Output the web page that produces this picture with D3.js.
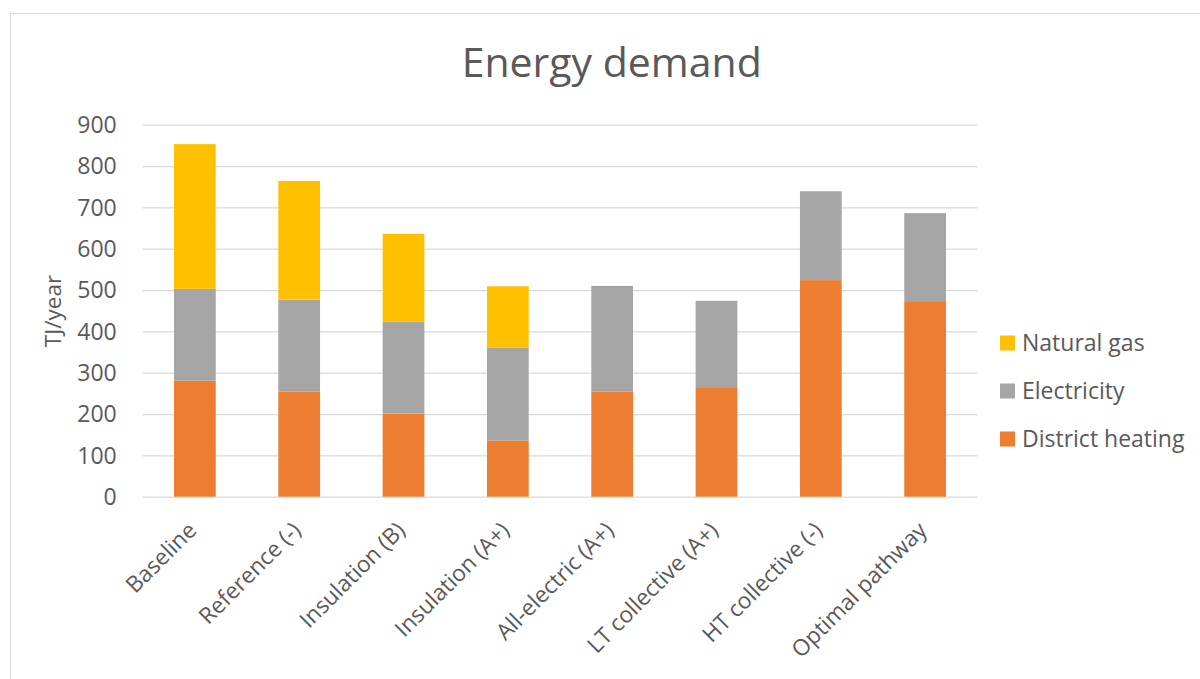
<!DOCTYPE html>
<html>
<head>
<meta charset="utf-8">
<script src="https://cdn.jsdelivr.net/npm/d3@7"></script>
<style>
  html, body { margin: 0; padding: 0; background: #fff; }
  svg { display: block; font-family: "Open Sans", "Noto Sans", sans-serif; }
</style>
</head>
<body>
<svg id="chart" width="1200" height="679"></svg>
<script>
const categories = ["Baseline", "Reference (-)", "Insulation (B)", "Insulation (A+)", "All-electric (A+)", "LT collective (A+)", "HT collective (-)", "Optimal pathway"];
const districtHeating = [281, 254, 201, 136, 254, 265, 524, 471];
const electricity     = [222, 223, 223, 224, 256, 209, 215, 215];
const naturalGas      = [350, 287, 212, 149, 0, 0, 0, 0];
const seriesNames = ["District heating", "Electricity", "Natural gas"];
const seriesColors = ["#ED7D31", "#A5A5A5", "#FFC000"];
const yTicks = [0, 100, 200, 300, 400, 500, 600, 700, 800, 900];
const title = "Energy demand";
const yTitle = "TJ/year";

const svg = d3.select("#chart");
const textColor = "#595959";
const gridColor = "#D9D9D9";

// chart border
svg.append("rect").attr("x", 10.5).attr("y", 13.5).attr("width", 1200).attr("height", 700)
  .attr("fill", "none").attr("stroke", gridColor).attr("stroke-width", 1);

const plot = { left: 142.7, right: 977.3, top: 124.7, bottom: 496.7 };

const x = d3.scaleBand().domain(categories).range([plot.left, plot.right]).paddingInner(0.6).paddingOuter(0.3);
const y = d3.scaleLinear().domain([0, 900]).range([plot.bottom, plot.top]);

function fit(sel, target) {
  const n = sel.node();
  const fs = parseFloat(sel.attr("font-size"));
  const len = n.getComputedTextLength();
  if (len > 0) sel.attr("font-size", (fs * target / len).toFixed(2));
}

// gridlines
const yAxis = d3.axisLeft(y).tickValues(yTicks).tickSize(-(plot.right - plot.left)).tickPadding(26);
const gy = svg.append("g").attr("transform", `translate(${plot.left},0)`).call(yAxis);
gy.select(".domain").remove();
gy.selectAll(".tick line").attr("stroke", gridColor).attr("stroke-width", 1.3);
gy.selectAll(".tick text").attr("fill", textColor).attr("font-size", 23)
  .attr("font-family", "'Open Sans', sans-serif").attr("dy", "0.34em");

// stacked data
const rows = categories.map((c, i) => ({ cat: c, "District heating": districtHeating[i], "Electricity": electricity[i], "Natural gas": naturalGas[i] }));
const stack = d3.stack().keys(seriesNames)(rows);

svg.append("g").selectAll("g").data(stack).join("g")
  .attr("fill", (d, i) => seriesColors[i])
  .selectAll("rect").data(d => d.filter(p => p[1] - p[0] > 0)).join("rect")
  .attr("x", d => x(d.data.cat))
  .attr("width", x.bandwidth())
  .attr("y", d => y(d[1]))
  .attr("height", d => y(d[0]) - y(d[1]));

// x axis labels
const gx = svg.append("g");
categories.forEach(c => {
  const cx = x(c) + x.bandwidth() / 2 + 3;
  gx.append("text")
    .attr("transform", `translate(${cx},${plot.bottom + 35}) rotate(-45)`)
    .attr("text-anchor", "end")
    .attr("fill", textColor)
    .attr("font-size", 22.6)
    .text(c);
});

// title
const t = svg.append("text").attr("x", 611.7).attr("y", 77).attr("text-anchor", "middle")
  .attr("fill", textColor).attr("font-size", 40).text(title);
fit(t, 300);

// y title
svg.append("text").attr("transform", "translate(61,311) rotate(-90)").attr("text-anchor", "middle")
  .attr("fill", textColor).attr("font-size", 22.5).text(yTitle);

// legend
const legendOrder = [2, 1, 0];
const legendY = [343, 391, 439];
legendOrder.forEach((si, k) => {
  svg.append("rect").attr("x", 1000).attr("y", legendY[k] - 7.5).attr("width", 15).attr("height", 15)
    .attr("fill", seriesColors[si]);
  svg.append("text").attr("x", 1022).attr("y", legendY[k]).attr("dy", "0.36em")
    .attr("fill", textColor).attr("font-size", 23).text(seriesNames[si]);
});
</script>
</body>
</html>
